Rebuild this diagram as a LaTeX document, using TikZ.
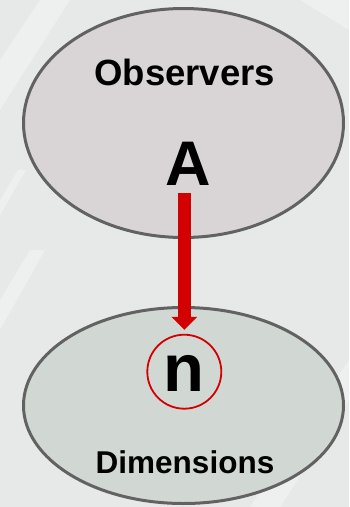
\documentclass[tikz,border=0pt]{standalone}
\usepackage{fontspec}
\setmainfont{Liberation Sans}
\usetikzlibrary{arrows.meta,shapes.geometric}
\definecolor{bgcol}{HTML}{E7E9E9}
\definecolor{obsfill}{HTML}{D9D5D6}
\definecolor{dimfill}{HTML}{D1D8D3}
\definecolor{rimcol}{HTML}{626262}
\definecolor{linkred}{HTML}{D20000}
\tikzset{
  region/.style={ellipse, draw=rimcol, line width=3pt, inner sep=0pt},
  title/.style={anchor=base, inner sep=0pt, font=\bfseries\fontsize{#1}{#1}\selectfont},
  streak/.style={white, opacity=0.3}
}
\begin{document}
\begin{tikzpicture}[x=1pt,y=-1pt]
  % backdrop
  \fill[bgcol] (0,0) rectangle (349,507);
  \useasboundingbox (0,0) rectangle (349,507);
  \fill[streak] (0,60) -- (40,0) -- (70,0) -- (0,110) -- cycle;
  \fill[streak] (0,300) -- (30,250) -- (45,250) -- (0,330) -- cycle;
  \fill[streak] (250,507) -- (349,360) -- (349,400) -- (280,507) -- cycle;
  \fill[streak] (0,200) -- (18,170) -- (26,170) -- (0,215) -- cycle;
  \fill[streak] (300,0) -- (349,0) -- (349,30) -- cycle;

  % the two regions
  \node[region, fill=obsfill, minimum width=320pt, minimum height=229pt] (obs) at (183.5,123) {};
  \node[region, fill=dimfill, minimum width=320pt, minimum height=196pt] (dim) at (183.5,405.5) {};

  % labels
  \node[title=36.5] (obslabel) at (184.7,85) {Observers};
  \node[title=63] (A) at (188.3,185) {A};
  \node[title=31.5] (dimlabel) at (185,473) {Dimensions};

  % marked element
  \node[circle, draw=linkred, line width=1.8pt, minimum size=74pt, inner sep=0pt] (ncirc) at (184.3,371.7) {};
  \node[title=67] (n) at (184.2,391.5) {n};

  % link from A to n
  \coordinate (linkstart) at (184.3,193);
  \draw[linkred, line width=13pt, -{Triangle[width=25pt,length=13pt]}, shorten >=4pt] (linkstart) -- (ncirc.north);
\end{tikzpicture}
\end{document}
